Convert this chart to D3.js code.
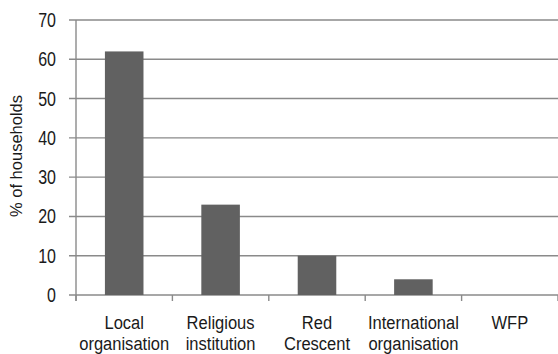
<!DOCTYPE html>
<html>
<head>
<meta charset="utf-8">
<script src="https://cdn.jsdelivr.net/npm/d3@7"></script>
<style>
  body { margin: 0; background: #fff; }
  text { font-family: "Liberation Sans", Arial, sans-serif; fill: #1a1a1a; }
</style>
</head>
<body>
<svg id="chart" width="558" height="354"></svg>
<script>
var categories = [["Local", "organisation"], ["Religious", "institution"], ["Red", "Crescent"], ["International", "organisation"], ["WFP"]];
var values = [62, 23, 10, 4, 0];
var yTicks = [0, 10, 20, 30, 40, 50, 60, 70];

var svg = d3.select("#chart"),
    margin = { top: 20, right: 0, bottom: 59, left: 76 },
    width = 558 - margin.left - margin.right,
    height = 354 - margin.top - margin.bottom;

var g = svg.append("g").attr("transform", "translate(" + margin.left + "," + margin.top + ")");

var x = d3.scaleBand().domain(d3.range(values.length)).range([0, width]).paddingInner(0.6).paddingOuter(0.3);
var y = d3.scaleLinear().domain([0, 70]).range([height, 0]);

// gridlines
g.selectAll("line.grid").data(yTicks).enter()
 .append("line")
 .attr("class", "grid")
 .attr("x1", -7).attr("x2", width)
 .attr("y1", function (d) { return y(d); })
 .attr("y2", function (d) { return y(d); })
 .attr("stroke", "#8a8a8a")
 .attr("stroke-width", 1.4);

// narrow-looking numbers, so squeeze horizontally
g.selectAll("text.ytick").data(yTicks).enter()
 .append("text")
 .attr("class", "ytick")
 .attr("transform", function (d) { return "translate(-20," + y(d) + ") scale(0.8,1)"; })
 .attr("dy", "0.35em")
 .attr("text-anchor", "end")
 .style("font-size", "20px")
 .text(function (d) { return d; });

g.selectAll("rect.bar").data(values).enter()
 .append("rect")
 .attr("class", "bar")
 .attr("x", function (d, i) { return x(i); })
 .attr("width", x.bandwidth())
 .attr("y", function (d) { return y(d); })
 .attr("height", function (d) { return height - y(d); })
 .attr("fill", "#616161");

// y axis line
g.append("line").attr("x1", 0).attr("x2", 0).attr("y1", 0).attr("y2", height + 6)
 .attr("stroke", "#8a8a8a").attr("stroke-width", 1.4);

// category separators
var seps = d3.range(values.length + 1).map(function (i) { return i * width / values.length; });
g.selectAll("line.sep").data(seps).enter()
 .append("line")
 .attr("x1", function (d) { return d; }).attr("x2", function (d) { return d; })
 .attr("y1", height).attr("y2", height + 6)
 .attr("stroke", "#8a8a8a").attr("stroke-width", 1.4);

var labels = g.selectAll("text.xlab").data(categories).enter()
 .append("text")
 .attr("class", "xlab")
 .attr("text-anchor", "middle")
 .style("font-size", "19px")
 .attr("transform", function (d, i) { return "translate(" + (x(i) + x.bandwidth() / 2) + "," + (height + 34) + ") scale(0.87,1)"; });
labels.selectAll("tspan").data(function (d) { return d; }).enter()
 .append("tspan")
 .attr("x", 0)
 .attr("y", function (d, i) { return i * 21; })
 .text(function (d) { return d; });

svg.append("text")
 .attr("transform", "translate(22,156) rotate(-90)")
 .attr("text-anchor", "middle")
 .style("font-size", "16.5px")
 .text("% of households");
</script>
</body>
</html>
